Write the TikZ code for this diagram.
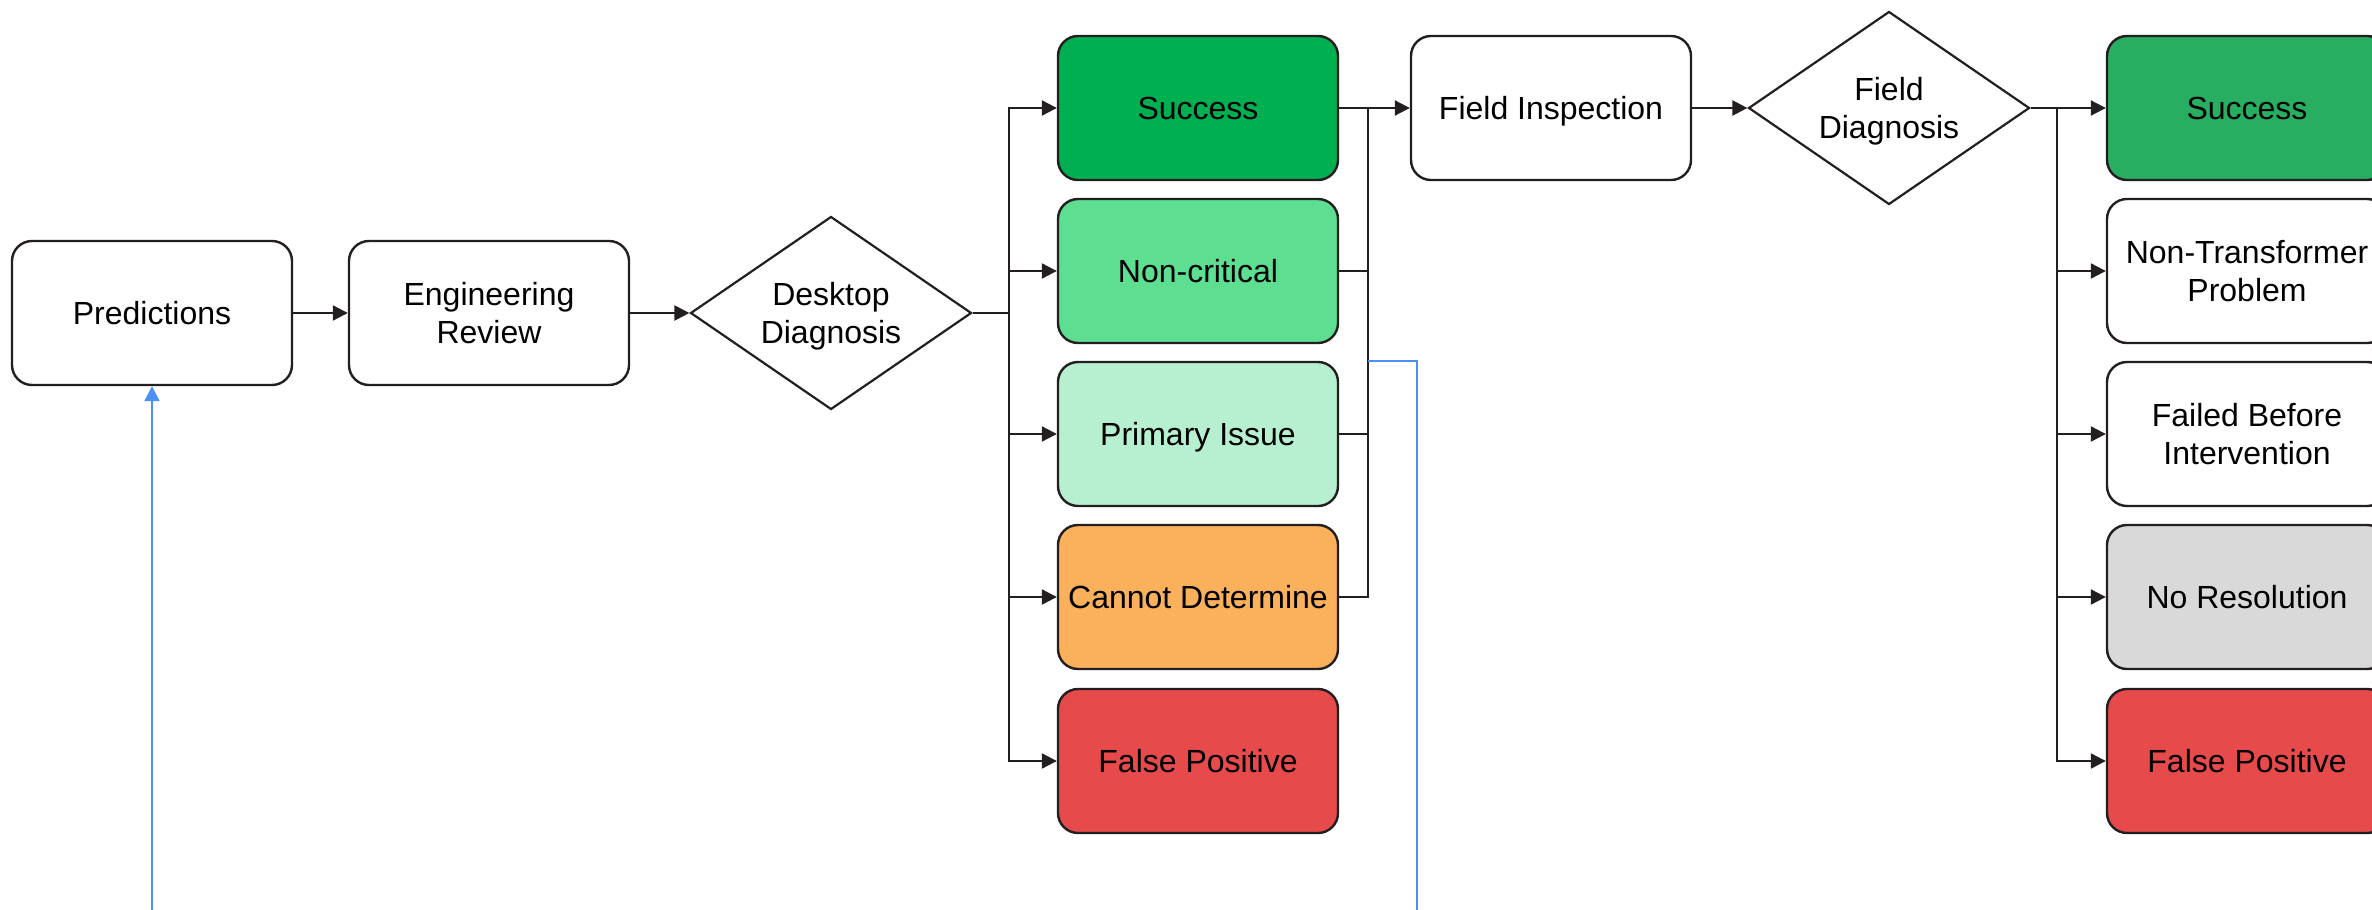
\documentclass[tikz,border=0pt]{standalone}
\usepackage{fontspec}
\setmainfont{Liberation Sans}
\usetikzlibrary{shapes.geometric,arrows.meta}
\definecolor{linec}{RGB}{35,31,32}
\definecolor{dsucc}{RGB}{0,176,80}
\definecolor{dnc}{RGB}{94,222,144}
\definecolor{dpi}{RGB}{182,240,208}
\definecolor{dcd}{RGB}{251,176,91}
\definecolor{fpred}{RGB}{230,74,74}
\definecolor{rsucc}{RGB}{39,174,96}
\definecolor{nrgray}{RGB}{217,217,217}
\definecolor{fbblue}{RGB}{76,144,245}
\begin{document}
\begin{tikzpicture}[x=0.5pt,y=-0.5pt,
  box/.style={draw=linec, line width=1.2pt, rounded corners=10pt,
    minimum width=140pt, minimum height=72pt, align=center,
    font=\fontsize{16}{19}\selectfont, inner sep=2pt, text depth=0pt},
  dec/.style={draw=linec, line width=1.1pt, diamond, shape aspect=1.45,
    minimum width=140.5pt, minimum height=96.5pt, inner sep=0pt,
    align=center, font=\fontsize{16}{19}\selectfont, text depth=0pt},
  conn/.style={draw=linec, line width=1.1pt},
  arr/.style={conn, -{Triangle[length=7.5pt,width=7.5pt]}},
  fb/.style={draw=fbblue, line width=1.1pt},
]
\useasboundingbox (0,0) rectangle (2372,910);
\clip (0,0) rectangle (2372,910);

% main flow
\node[box] (pred) at (152,313) {Predictions};
\node[box] (rev) at (489,313) {Engineering\\Review};
\node[dec] (dd) at (831,313) {Desktop\\Diagnosis};

% desktop outcomes
\node[box, fill=dsucc] (ds) at (1198,108) {Success};
\node[box, fill=dnc]   (dn) at (1198,271) {Non-critical};
\node[box, fill=dpi]   (dp) at (1198,434) {Primary Issue};
\node[box, fill=dcd]   (dc) at (1198,597) {Cannot Determine};
\node[box, fill=fpred] (df) at (1198,761) {False Positive};

% field stage
\node[box] (fi) at (1551,108) {Field Inspection};
\node[dec] (fd) at (1889,108) {Field\\Diagnosis};

% field outcomes
\node[box, fill=rsucc]  (rs) at (2247,108) {Success};
\node[box]              (rn) at (2247,271) {Non-Transformer\\Problem};
\node[box]              (rf) at (2247,434) {Failed Before\\Intervention};
\node[box, fill=nrgray] (rr) at (2247,597) {No Resolution};
\node[box, fill=fpred]  (rp) at (2247,761) {False Positive};

% bus points
\coordinate (b1) at (1009,313);
\coordinate (b2) at (1368,108);
\coordinate (b3) at (2057,108);
\coordinate (fbtap) at (1368,361);
\coordinate (fbend) at (1417,910);
\coordinate (predfb) at (152,910);

\draw[arr] (pred) -- (rev);
\draw[arr] (rev) -- (dd);
\draw[conn] (dd.east) -- (b1);
\foreach \n in {ds,dn,dp,dc,df} \draw[arr] (b1) |- (\n.west);
\foreach \n in {dn,dp,dc} \draw[conn] (\n.east) -| (b2);
\draw[arr] (ds) -- (fi);
\draw[arr] (fi) -- (fd);
\draw[conn] (fd.east) -- (b3);
\foreach \n in {rs,rn,rf,rr,rp} \draw[arr] (b3) |- (\n.west);

% feedback lines
\draw[fb] (fbtap) -| (fbend);
\draw[fb, -{Triangle[length=7.5pt,width=7.5pt]}] (predfb) -- (pred.south);
\end{tikzpicture}
\end{document}
